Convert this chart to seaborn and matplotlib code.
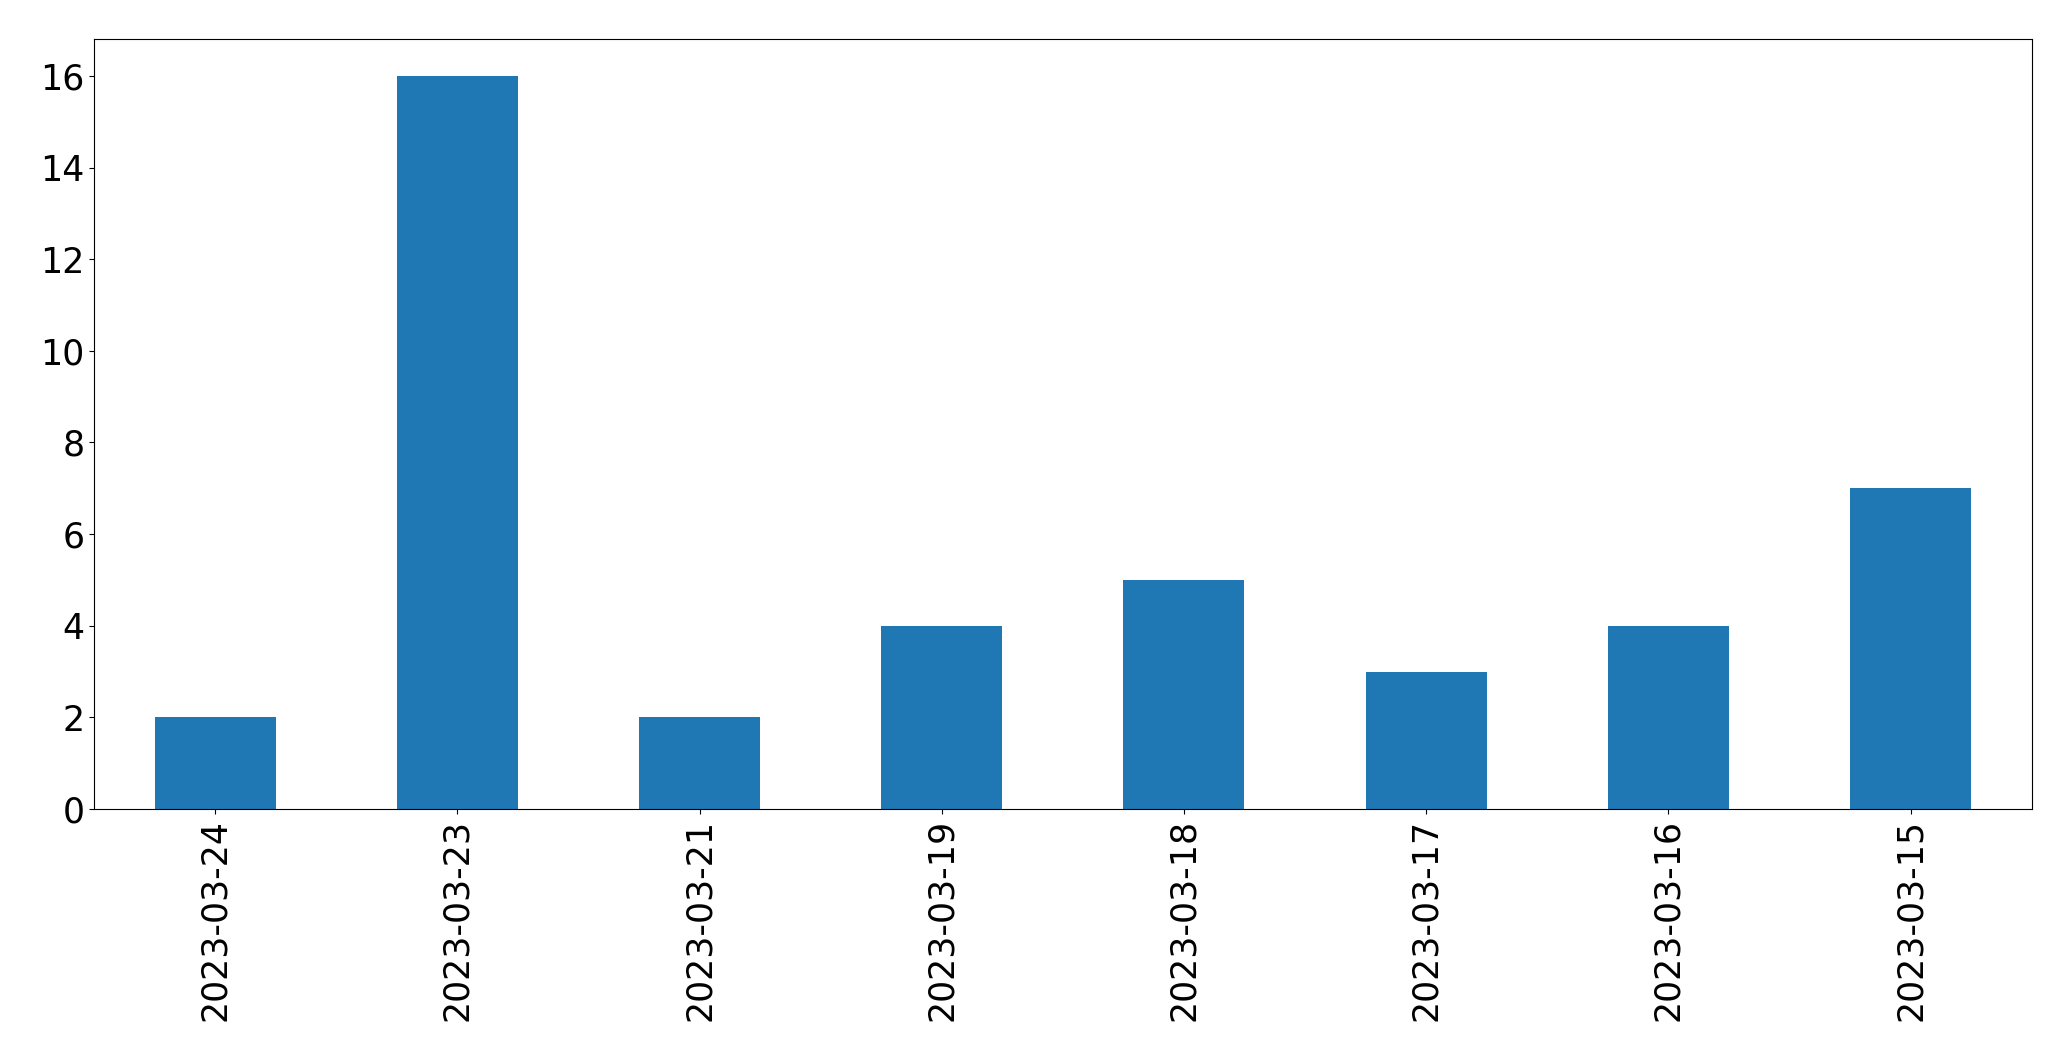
import pandas as pd
import matplotlib
matplotlib.use("Agg")
import matplotlib.pyplot as plt
import seaborn as sns

dates = ["2023-03-24", "2023-03-23", "2023-03-21", "2023-03-19",
         "2023-03-18", "2023-03-17", "2023-03-16", "2023-03-15"]
counts = [2, 16, 2, 4, 5, 3, 4, 7]

df = pd.DataFrame({"date": dates, "count": counts})

fig, ax = plt.subplots(figsize=(20.71, 10.61), dpi=100)
fig.subplots_adjust(left=0.0454, right=0.981, top=0.963, bottom=0.2375)

sns.barplot(data=df, x="date", y="count", order=dates, color="#1f77b4",
            saturation=1, width=0.5, linewidth=0, ax=ax)

ax.set_xlabel("")
ax.set_ylabel("")
ax.set_xlim(-0.5, len(dates) - 0.5)
ax.tick_params(axis="both", labelsize=25)
ax.tick_params(axis="x", labelrotation=90)

fig.savefig("out.png", dpi=100)
